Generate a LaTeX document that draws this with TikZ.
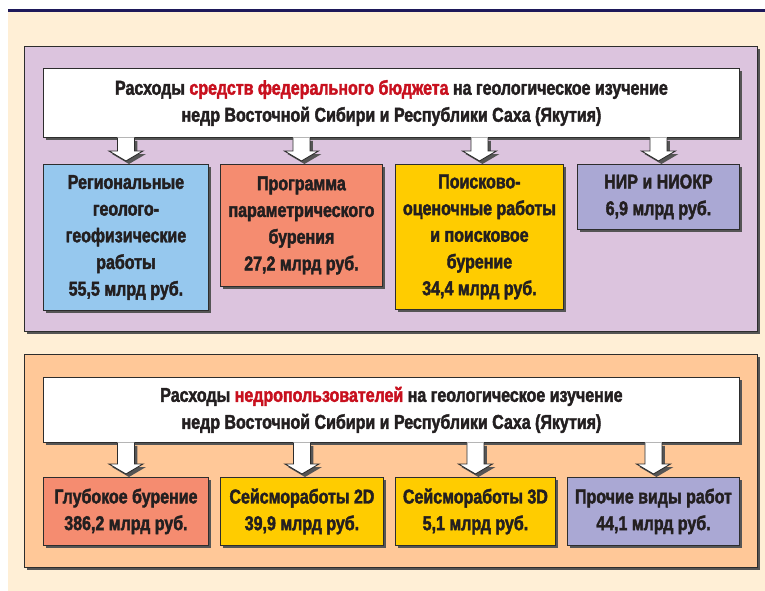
\documentclass[tikz,border=0pt]{standalone}
\usepackage{fontspec}
\setmainfont{Liberation Sans}[FakeStretch=0.8,BoldFeatures={FakeBold=2}]
\usetikzlibrary{shadows,calc}
\definecolor{cream}{RGB}{255,239,214}
\definecolor{navy}{RGB}{30,25,90}
\definecolor{panelA}{RGB}{220,196,222}
\definecolor{panelB}{RGB}{255,200,152}
\definecolor{cblue}{RGB}{150,200,238}
\definecolor{csalmon}{RGB}{245,140,112}
\definecolor{cyellow}{RGB}{255,204,0}
\definecolor{clav}{RGB}{170,168,212}
\definecolor{cred}{RGB}{200,16,30}
\definecolor{ctext}{RGB}{35,31,32}
\definecolor{shadowc}{RGB}{85,85,85}
\definecolor{edgec}{RGB}{45,45,45}
\tikzset{
 sh/.style={drop shadow={shadow xshift=3pt,shadow yshift=-3pt,opacity=1,fill=shadowc}},
 panel/.style={draw=edgec,line width=0.9pt,sh,anchor=north west,inner sep=0pt},
 hdr/.style={draw=edgec,line width=0.9pt,fill=white,sh,anchor=north west,align=center,
   font=\bfseries\fontsize{20}{27}\selectfont,text=ctext,inner sep=0pt},
 box/.style={draw=edgec,line width=0.9pt,sh,anchor=north west,align=center,
   font=\bfseries\fontsize{20}{26.7}\selectfont,text=ctext,inner sep=0pt},
 arredge/.style={draw=edgec,line width=0.9pt,line join=miter},
}
\newcommand\blockarr[2]{%
 \fill[shadowc] let \p1=(#2.north), \p2=(#1.south) in
   (\x1-5.5pt,\y2-3pt) -- (\x1-5.5pt,\y1+10pt) -- (\x1-14pt,\y1+10pt) -- (\x1+3pt,\y1)
   -- (\x1+20pt,\y1+10pt) -- (\x1+11.5pt,\y1+10pt) -- (\x1+11.5pt,\y2-3pt) -- cycle;
 \fill[white] let \p1=(#2.north), \p2=(#1.south) in
   (\x1-8.5pt,\y2+0.5pt) -- (\x1-8.5pt,\y1+13pt) -- (\x1-17pt,\y1+13pt) -- (\x1,\y1+3pt)
   -- (\x1+17pt,\y1+13pt) -- (\x1+8.5pt,\y1+13pt) -- (\x1+8.5pt,\y2+0.5pt) -- cycle;
 \draw[arredge] let \p1=(#2.north), \p2=(#1.south) in
   (\x1-8.5pt,\y2) -- (\x1-8.5pt,\y1+13pt) -- (\x1-17pt,\y1+13pt) -- (\x1,\y1+3pt)
   -- (\x1+17pt,\y1+13pt) -- (\x1+8.5pt,\y1+13pt) -- (\x1+8.5pt,\y2);
}
\begin{document}
\begin{tikzpicture}[x=1pt,y=-1pt]
\useasboundingbox (0,0) rectangle (765,591);
\fill[white] (0,0) rectangle (765,591);
\fill[cream] (8,12) rectangle (765,591);
\fill[navy] (8,9) rectangle (765,12);
% upper panel
\node[panel,fill=panelA,minimum width=733pt,minimum height=285pt] (P1) at (24,46) {};
\node[hdr,minimum width=696pt,minimum height=69pt] (H1) at (43,68)
 {Расходы \textcolor{cred}{средств федерального бюджета} на геологическое изучение\\
  недр Восточной Сибири и Республики Саха (Якутия)};
\node[box,fill=cblue,minimum width=165pt,minimum height=146pt] (B1) at (43,164)
 {Региональные\\геолого-\\геофизические\\работы\\55,5 млрд руб.};
\node[box,fill=csalmon,minimum width=162pt,minimum height=122pt] (B2) at (220,164)
 {Программа\\параметрического\\бурения\\27,2 млрд руб.};
\node[box,fill=cyellow,minimum width=168pt,minimum height=145pt] (B3) at (395,164)
 {Поисково-\\оценочные работы\\и поисковое\\бурение\\34,4 млрд руб.};
\node[box,fill=clav,minimum width=162pt,minimum height=65pt] (B4) at (577,164)
 {НИР и НИОКР\\6,9 млрд руб.};
\blockarr{H1}{B1}
\blockarr{H1}{B2}
\blockarr{H1}{B3}
\blockarr{H1}{B4}
% lower panel
\node[panel,fill=panelB,minimum width=733pt,minimum height=213pt] (P2) at (24,354) {};
\node[hdr,minimum width=696pt,minimum height=65pt] (H2) at (43,377)
 {Расходы \textcolor{cred}{недропользователей} на геологическое изучение\\
  недр Восточной Сибири и Республики Саха (Якутия)};
\node[box,fill=csalmon,minimum width=165pt,minimum height=68pt] (C1) at (43,477)
 {Глубокое бурение\\386,2 млрд руб.};
\node[box,fill=cyellow,minimum width=163pt,minimum height=68pt] (C2) at (220,477)
 {Сейсморaботы 2D\\39,9 млрд руб.};
\node[box,fill=cyellow,minimum width=160pt,minimum height=68pt] (C3) at (395,477)
 {Сейсморaботы 3D\\5,1 млрд руб.};
\node[box,fill=clav,minimum width=172pt,minimum height=68pt] (C4) at (567,477)
 {Прочие виды работ\\44,1 млрд руб.};
\blockarr{H2}{C1}
\blockarr{H2}{C2}
\blockarr{H2}{C3}
\blockarr{H2}{C4}
\end{tikzpicture}
\end{document}
